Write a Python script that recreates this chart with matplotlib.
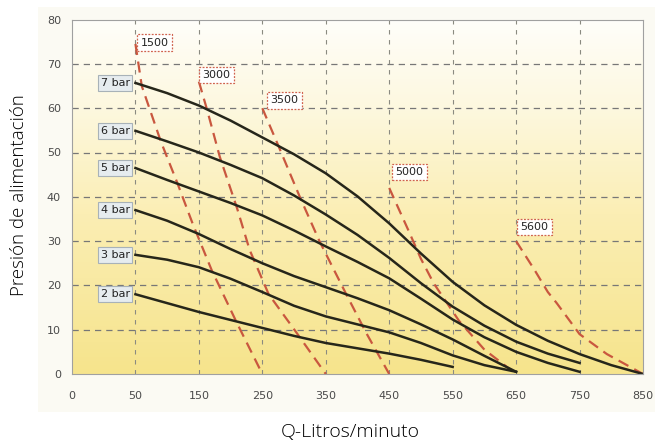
import matplotlib.pyplot as plt
import numpy as np
from matplotlib.colors import LinearSegmentedColormap
from matplotlib.patches import Rectangle

# x axis is not linear: 0 -> 50 takes one step, then 100 per step
flow_ticks = [0, 50, 150, 250, 350, 450, 550, 650, 750, 850]
pres_ticks = [0, 10, 20, 30, 40, 50, 60, 70, 80]

# pressure curves (flow l/min, pressure)
flow_7bar = [50, 100, 150, 200, 250, 300, 350, 400, 450, 500, 550, 600, 650, 700, 750, 800, 850]
pres_7bar = [65.7, 63.4, 60.6, 57.2, 53.4, 49.6, 45.3, 40.1, 34, 27.2, 20.8, 15.5, 11.1, 7.5, 4.5, 2, 0]
flow_6bar = [50, 100, 150, 200, 250, 300, 350, 400, 450, 500, 550, 600, 650, 700, 750]
pres_6bar = [54.9, 52.5, 50, 47.2, 44.2, 40.3, 36, 31.4, 26.2, 20.5, 15.2, 10.9, 7.3, 4.6, 2.5]
flow_5bar = [50, 100, 150, 200, 250, 300, 350, 400, 450, 500, 550, 600, 650, 700, 750]
pres_5bar = [46.5, 43.8, 41.2, 38.6, 35.8, 32.4, 28.8, 25.3, 21.6, 17, 12.3, 8.3, 5, 2.5, 0.5]
flow_4bar = [50, 100, 150, 200, 250, 300, 350, 400, 450, 500, 550, 600, 650]
pres_4bar = [37, 34.6, 31.6, 28.2, 25, 22.1, 19.6, 17.1, 14.4, 11.2, 7.8, 4.1, 0.5]
flow_3bar = [50, 100, 150, 200, 250, 300, 350, 400, 450, 500, 550, 600, 650]
pres_3bar = [26.9, 25.8, 24.1, 21.5, 18.5, 15.4, 13, 11.2, 9.4, 7, 4.2, 2, 0.5]
flow_2bar = [50, 100, 150, 200, 250, 300, 350, 400, 450, 500, 550]
pres_2bar = [18, 16, 14, 12.2, 10.4, 8.6, 7, 5.8, 4.6, 3.2, 1.6]
bar_labels = ['7 bar', '6 bar', '5 bar', '4 bar', '3 bar', '2 bar']

# speed lines (red dashed)
flow_1500 = [50, 60, 90, 115, 140, 170, 210, 250]
pres_1500 = [74.5, 65, 52.5, 43.5, 34, 23.5, 11.5, 0]
flow_3000 = [150, 163, 183, 210, 230, 260, 304, 350]
pres_3000 = [66, 59.6, 49, 37.5, 28, 18, 9.3, 0]
flow_3500 = [250, 278, 309, 340, 383, 414, 450]
pres_3500 = [60, 50.6, 40, 30, 17.8, 9.2, 0]
flow_5000 = [450, 480, 500, 520, 560, 600, 650]
pres_5000 = [42, 32.5, 26, 20.5, 12, 5.5, 0]
flow_5600 = [650, 679, 700, 714, 750, 793, 850]
pres_5600 = [30, 23.5, 18.5, 16, 9, 4.5, 0]
speed_labels = ['1500', '3000', '3500', '5000', '5600']
speed_label_pos = [(80, 74.8), (178, 67.5), (285, 61.8), (482, 45.6), (679, 33.2)]


def fwd(q):
    q = np.asarray(q, dtype=float)
    return np.where(q < 50, q / 50.0, 1 + (q - 50) / 100.0)


def inv(p):
    p = np.asarray(p, dtype=float)
    return np.where(p < 1, p * 50.0, 50 + (p - 1) * 100.0)


def main():
    narrow = ['Liberation Sans Narrow', 'DejaVu Sans']
    fig = plt.figure(figsize=(6.57, 4.45), dpi=100)
    fig.patches.append(Rectangle((38 / 657, 1 - 412 / 445), 617 / 657, 405 / 445,
                                 transform=fig.transFigure, fc='#fbfaf3', ec='none', zorder=-5))
    ax = fig.add_axes([72 / 657, 1 - 374 / 445, 571 / 657, 354.4 / 445])
    ax.set_xscale('function', functions=(fwd, inv))
    ax.set_xlim(0, 850)
    ax.set_ylim(0, 80)

    # yellow gradient background
    cmap = LinearSegmentedColormap.from_list('bg', [(0, '#f6e48c'), (0.45, '#fbeeb4'),
                                                    (0.75, '#fdf8df'), (1, '#fffefa')])
    grad = np.linspace(0, 1, 256).reshape(-1, 1)
    ax.imshow(grad, cmap=cmap, aspect='auto', origin='lower', extent=(0, 1, 0, 1),
              transform=ax.transAxes, zorder=0)

    # grid
    for y in pres_ticks[1:-1]:
        ax.axhline(y, color='#777777', lw=0.9, ls=(0, (5, 4)), zorder=1)
    for q in flow_ticks[1:-1]:
        ax.axvline(q, color='#8a8a80', lw=0.8, ls=(0, (4, 5)), zorder=1)

    # speed lines
    red = '#c9573f'
    for fq, pr in [(flow_1500, pres_1500), (flow_3000, pres_3000), (flow_3500, pres_3500),
                   (flow_5000, pres_5000), (flow_5600, pres_5600)]:
        ax.plot(fq, pr, color=red, lw=1.6, ls=(0, (5, 3)), zorder=2)

    # pressure curves
    curves = [(flow_7bar, pres_7bar), (flow_6bar, pres_6bar), (flow_5bar, pres_5bar),
              (flow_4bar, pres_4bar), (flow_3bar, pres_3bar), (flow_2bar, pres_2bar)]
    for (fq, pr), lab in zip(curves, bar_labels):
        ax.plot(fq, pr, color='#26261a', lw=1.8, zorder=3)
        ax.text(34, pr[0], lab, ha='center', va='center', fontsize=8, family=narrow,
                color='#222222', zorder=4,
                bbox=dict(boxstyle='square,pad=0.25', fc='#e6ecef', ec='#a8b2b8', lw=0.8))

    for lab, (q, p) in zip(speed_labels, speed_label_pos):
        ax.text(q, p, lab, ha='center', va='center', fontsize=8, family=narrow,
                color='#222222', zorder=4,
                bbox=dict(boxstyle='square,pad=0.3', fc='white', ec='#d0624e', lw=0.9,
                          ls=(0, (1.5, 1.2))))

    ax.set_xticks(flow_ticks)
    ax.set_xticklabels([str(t) for t in flow_ticks], family=narrow)
    ax.set_yticks(pres_ticks)
    ax.set_yticklabels([str(t) for t in pres_ticks], family=narrow)
    ax.tick_params(axis='both', length=0, labelsize=8, labelcolor='#4a4a4a')
    ax.tick_params(axis='x', pad=12)
    ax.tick_params(axis='y', pad=8)
    for s in ax.spines.values():
        s.set_color('#a0a0a0')
        s.set_linewidth(0.8)
        s.set_zorder(5)

    fig.text(350 / 657, 1 - 432 / 445, 'Q-Litros/minuto', ha='center', va='center',
             fontsize=14, family='Open Sans', weight='light', color='black')
    fig.text(19 / 657, 1 - 195 / 445, 'Presión de alimentación', ha='center', va='center',
             rotation=90, fontsize=13.5, family='Open Sans', weight='light', color='black')

    fig.savefig('out.png', dpi=100)


if __name__ == "__main__": main()
